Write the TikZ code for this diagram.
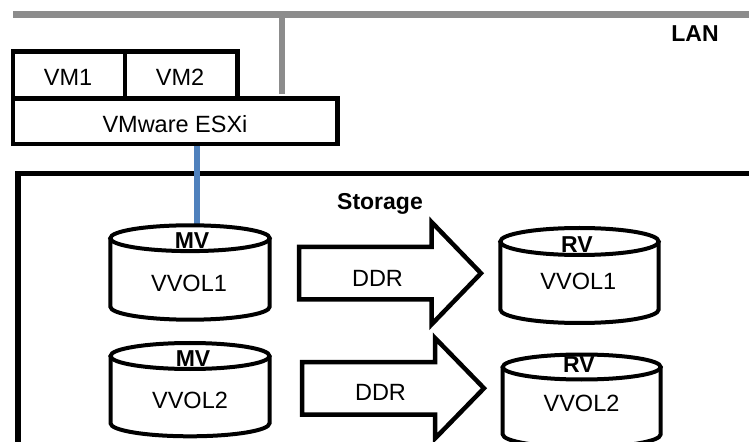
\documentclass[tikz,border=0pt]{standalone}
\usepackage{fontspec}
\setmainfont{Liberation Sans}
\definecolor{langray}{RGB}{140,140,140}
\definecolor{sanblue}{RGB}{79,129,189}
\tikzset{
  box/.style={draw, line width=4.5bp, fill=white, inner sep=0pt, line join=miter},
  txt/.style={font=\fontsize{23.5bp}{28bp}\selectfont, inner sep=0pt, anchor=base},
  btxt/.style={txt, font=\fontsize{23bp}{28bp}\selectfont\bfseries},
  disk/.style={draw, line width=4bp, fill=white},
  ddrarrow/.style={draw, line width=4.5bp, fill=white, line join=miter, miter limit=10},
}
% name, cx, rx, top cy, top ry, bottom cy, bottom ry
\newcommand{\drawdrum}[7]{%
  \path[disk] (#2-#3,#4) -- (#2-#3,#6) arc[start angle=180,end angle=0,x radius=#3,y radius=#7] -- (#2+#3,#4);
  \path[disk] (#2,#4) ellipse[x radius=#3, y radius=#5];
  \coordinate (#1) at (#2,#4-#5);
}
\begin{document}
\begin{tikzpicture}[x=1bp,y=-1bp]
\useasboundingbox (0,0) rectangle (749,442);
\fill[white] (0,0) rectangle (749,442);

% LAN bus
\coordinate (lanL) at (13,14.5);
\coordinate (lanR) at (760,14.5);
\draw[line width=7bp, langray] (lanL) -- (lanR);
\coordinate (lanTap) at (282,14.5);
\coordinate (tapEnd) at (282,94.3);
\draw[line width=6bp, langray] (lanTap) -- (tapEnd);
\node[btxt] (lan) at (695,41.7) {LAN};

% Storage frame
\coordinate (stTL) at (18,173.3);
\coordinate (stBR) at (800,500);
\draw[line width=5.5bp, line join=miter] (stTL) rectangle (stBR);
\node[btxt] (storage) at (380,210) {Storage};

% host
\coordinate (esxiFoot) at (197,144);
\coordinate (mvTopPt) at (197,225.5);
\draw[sanblue, line width=6.5bp] (esxiFoot) -- (mvTopPt);
\node[box, minimum width=324.5bp, minimum height=45.3bp] (esxi) at (175.25,121.35) {};
\node[box, minimum width=112bp, minimum height=47bp] (vm1) at (69,75.2) {};
\node[box, minimum width=112.5bp, minimum height=47bp] (vm2) at (181.25,75.2) {};
\node[txt] (vm1t) at (68,86) {VM1};
\node[txt] (vm2t) at (180,86) {VM2};
\node[txt] (esxit) at (175,133) {VMware ESXi};

% volumes
\drawdrum{mv1}{190}{79.7}{238.2}{12.9}{306.7}{13}
\drawdrum{mv2}{190}{79.5}{356}{13}{423.3}{13}
\drawdrum{rv1}{579.5}{79.2}{241.5}{13.5}{309.5}{13.5}
\drawdrum{rv2}{581.7}{79}{367}{12.5}{434.3}{13}
\node[btxt] (mv1l) at (192,249) {MV};
\node[txt] (mv1v) at (189,291.7) {VVOL1};
\node[btxt] (mv2l) at (193,366.8) {MV};
\node[txt] (mv2v) at (190,408.3) {VVOL2};
\node[btxt] (rv1l) at (577,253) {RV};
\node[txt] (rv1v) at (578.3,290) {VVOL1};
\node[btxt] (rv2l) at (579,373) {RV};
\node[txt] (rv2v) at (581.5,411.7) {VVOL2};

% DDR arrows
\path[ddrarrow] (299,247) -- (431.5,247) -- (431.5,222) -- (481,273.25) -- (431.5,324.5) -- (431.5,299.5) -- (299,299.5) -- cycle;
\path[ddrarrow] (302,362) -- (435,362) -- (435,338) -- (484,388.25) -- (435,438.5) -- (435,414.5) -- (302,414.5) -- cycle;
\node[txt] (ddr1) at (377.5,286.7) {DDR};
\node[txt] (ddr2) at (380.5,400) {DDR};
\end{tikzpicture}
\end{document}
